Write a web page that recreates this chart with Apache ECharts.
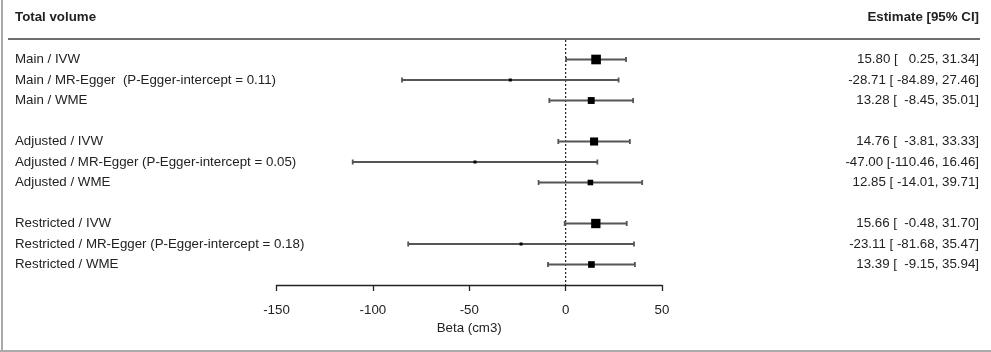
<!DOCTYPE html>
<html>
<head>
<meta charset="utf-8">
<script src="https://cdn.jsdelivr.net/npm/echarts@6/dist/echarts.min.js"></script>
<style>
  html, body { margin: 0; padding: 0; background: #fff; }
  #main { width: 991px; height: 352px; }
</style>
</head>
<body>
<div id="main"></div>
<script>
// rows, top to bottom ('' = spacer row)
var labels = [
  'Main / IVW',
  'Main / MR-Egger  (P-Egger-intercept = 0.11)',
  'Main / WME',
  '',
  'Adjusted / IVW',
  'Adjusted / MR-Egger (P-Egger-intercept = 0.05)',
  'Adjusted / WME',
  '',
  'Restricted / IVW',
  'Restricted / MR-Egger (P-Egger-intercept = 0.18)',
  'Restricted / WME'
];
var estimate = [15.80, -28.71, 13.28, null, 14.76, -47.00, 12.85, null, 15.66, -23.11, 13.39];
var lower = [0.25, -84.89, -8.45, null, -3.81, -110.46, -14.01, null, -0.48, -81.68, -9.15];
var upper = [31.34, 27.46, 35.01, null, 33.33, 16.46, 39.71, null, 31.70, 35.47, 35.94];
var xTicks = [-150, 50, 50]; // min, max, interval

var font = '"Liberation Sans", Arial, sans-serif';
var fs = 13.3;
var textColor = '#222';

// right column text built from the numbers
var estText = estimate.map(function (e, i) {
  if (e == null) return '';
  return e.toFixed(2) + ' [' + lower[i].toFixed(2).padStart(7, ' ') + ', ' + upper[i].toFixed(2) + ']';
});

var ciData = [];
var ptData = [];
estimate.forEach(function (e, i) {
  if (e == null) return;
  ciData.push([lower[i], upper[i], i]);
  // box size ~ inverse of CI width (precision)
  ptData.push({ value: [e, i], symbolSize: Math.max(3, 300 / (upper[i] - lower[i])) });
});

var myChart = echarts.init(document.getElementById('main'));

var option = {
  backgroundColor: '#fff',
  animation: false,
  textStyle: { fontFamily: font },
  grid: { left: 276.5, right: 329, top: 49.25, bottom: 77.25 },
  xAxis: {
    type: 'value',
    min: xTicks[0], max: xTicks[1], interval: xTicks[2],
    offset: 10.25,
    splitLine: { show: false },
    axisLine: { show: true, onZero: false, lineStyle: { color: '#222', width: 1.3 } },
    axisTick: { show: true, length: 6, lineStyle: { color: '#222', width: 1.3 } },
    axisLabel: { color: textColor, fontSize: fs, margin: 19, fontFamily: font },
    name: 'Beta (cm3)',
    nameLocation: 'middle',
    nameGap: 35,
    nameTextStyle: { color: textColor, fontSize: fs, fontFamily: font }
  },
  yAxis: [{
    type: 'category',
    data: labels,
    inverse: true,
    position: 'left',
    axisLine: { show: false },
    axisTick: { show: false },
    splitLine: { show: false },
    axisLabel: { align: 'left', margin: 261.5, color: textColor, fontSize: fs, fontFamily: font, interval: 0 }
  }, {
    type: 'category',
    data: estText,
    inverse: true,
    position: 'right',
    axisLine: { show: false },
    axisTick: { show: false },
    splitLine: { show: false },
    axisLabel: { align: 'right', margin: 317, color: textColor, fontSize: fs, fontFamily: font, interval: 0 }
  }],
  graphic: [
    { type: 'text', left: 15, top: 11, style: { text: 'Total volume', font: 'bold ' + fs + 'px ' + font, fill: textColor } },
    { type: 'text', right: 12, top: 11, style: { text: 'Estimate [95% CI]', font: 'bold ' + fs + 'px ' + font, fill: textColor } },
    { type: 'line', shape: { x1: 8, y1: 39, x2: 980, y2: 39 }, style: { stroke: '#6e6e6e', lineWidth: 2 } },
    { type: 'line', shape: { x1: 2, y1: 0, x2: 2, y2: 352 }, style: { stroke: '#aaa', lineWidth: 2 } },
    { type: 'line', shape: { x1: 0, y1: 351, x2: 991, y2: 351 }, style: { stroke: '#aaa', lineWidth: 2 } }
  ],
  series: [
    {
      // reference line at zero
      type: 'custom',
      data: [[0]],
      silent: true,
      renderItem: function (params, api) {
        var x = api.coord([api.value(0), 0])[0];
        return {
          type: 'line',
          shape: { x1: x, y1: 40, x2: x, y2: 285 },
          style: { stroke: '#222', lineWidth: 1.2, lineDash: [2, 2] }
        };
      }
    },
    {
      type: 'custom',
      data: ciData,
      encode: { x: [0, 1], y: 2 },
      renderItem: function (params, api) {
        var a = api.coord([api.value(0), api.value(2)]);
        var b = api.coord([api.value(1), api.value(2)]);
        var st = { stroke: '#555', lineWidth: 1.8 };
        return {
          type: 'group',
          children: [
            { type: 'line', shape: { x1: a[0], y1: a[1], x2: b[0], y2: b[1] }, style: st },
            { type: 'line', shape: { x1: a[0], y1: a[1] - 2.5, x2: a[0], y2: a[1] + 2.5 }, style: st },
            { type: 'line', shape: { x1: b[0], y1: b[1] - 2.5, x2: b[0], y2: b[1] + 2.5 }, style: st }
          ]
        };
      }
    },
    {
      type: 'scatter',
      data: ptData,
      symbol: 'rect',
      itemStyle: { color: '#000', opacity: 1 },
      z: 5
    }
  ]
};

myChart.setOption(option);
</script>
</body>
</html>
